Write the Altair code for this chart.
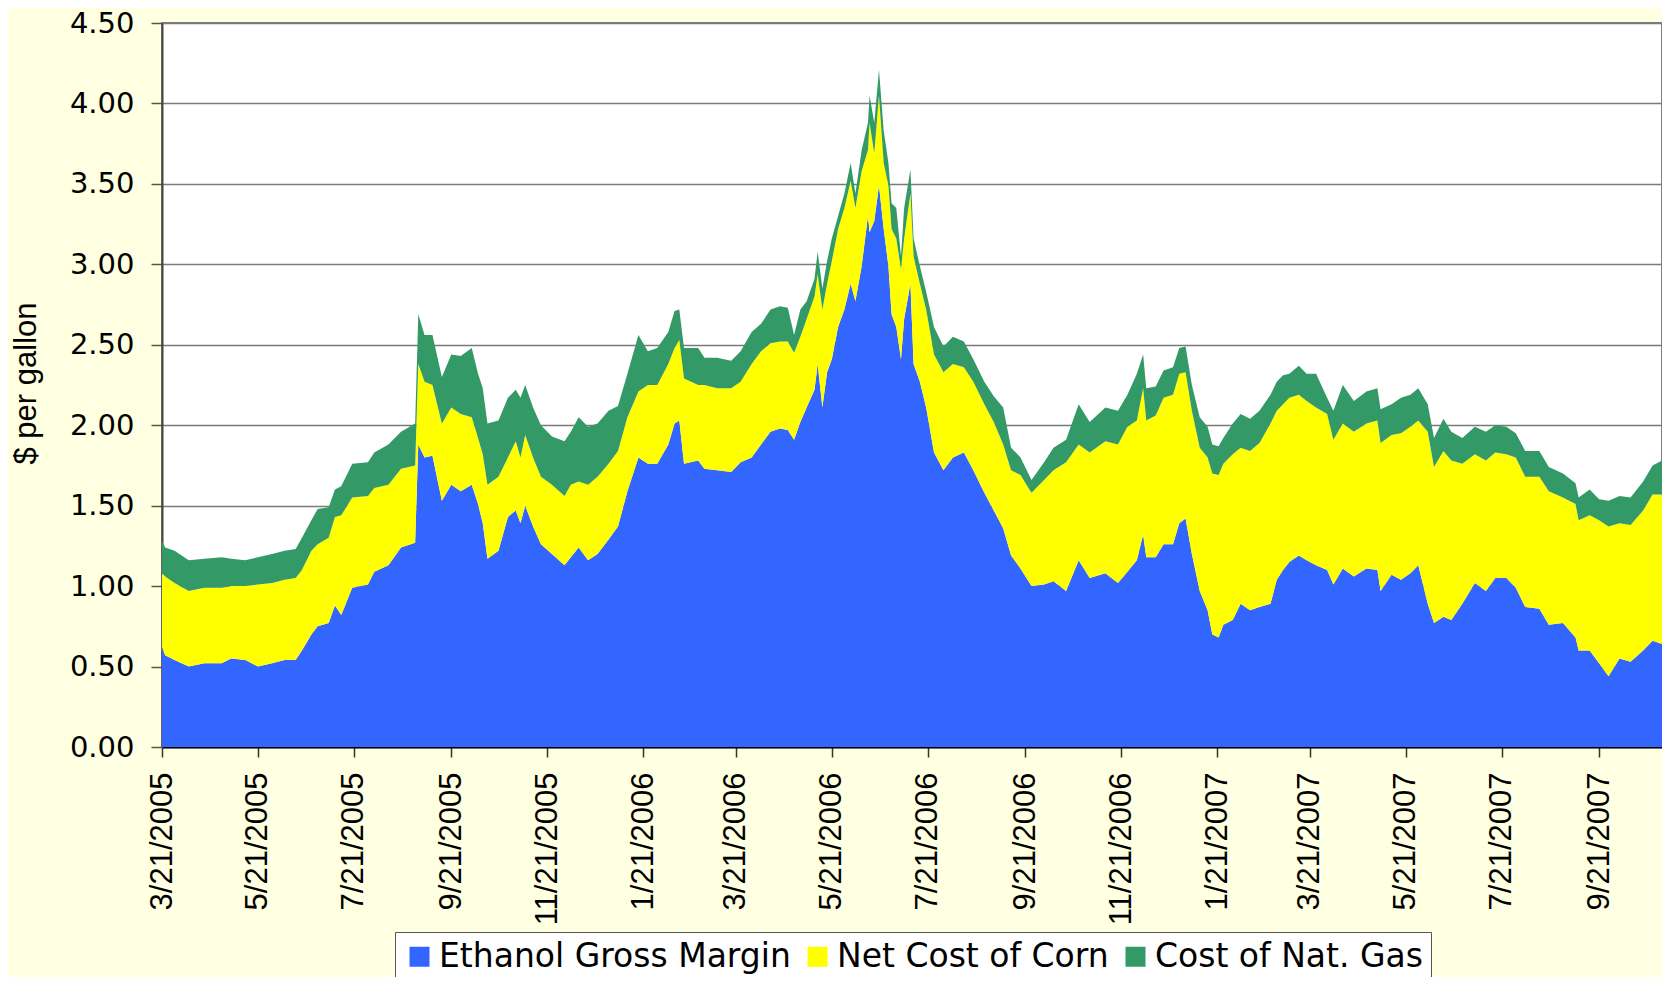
import altair as alt
import pandas as pd

# day offsets from 3/21/2005
days = [0,2,8,17,27,38,44,53,61,70,78,85,89,95,99,106,110,114,121,131,135,144,152,161,163,167,172,178,184,190,197,
        201,204,207,214,220,225,228,231,236,241,248,256,260,265,271,277,284,290,296,303,309,315,322,326,329,332,341,345,
        353,362,368,375,381,387,393,398,402,406,410,415,417,420,423,426,430,434,438,441,445,449,450,453,456,459,462,464,
        467,470,472,476,478,482,486,491,497,503,510,516,523,529,535,540,546,553,561,567,575,583,590,600,608,614,620,624,
        626,632,637,643,647,651,655,660,665,668,672,675,681,686,692,698,705,709,713,717,723,728,734,741,745,751,758,766,
        773,775,782,788,794,799,805,809,815,820,827,835,842,848,855,861,867,876,882,891,899,901,908,914,920,927,934,942,
        948,954]

# top of the Ethanol Gross Margin band ($/gal)
margin_top = [0.62,0.57,0.54,0.50,0.52,0.52,0.55,0.54,0.50,0.52,0.54,0.54,0.60,0.70,0.75,0.77,0.88,0.82,0.99,1.01,1.09,
              1.13,1.24,1.27,1.88,1.80,1.81,1.53,1.63,1.59,1.63,
              1.51,1.39,1.17,1.22,1.43,1.47,1.39,1.50,1.37,1.26,1.20,1.13,1.18,1.24,1.16,1.20,1.29,1.37,1.59,1.80,1.76,
              1.76,1.88,2.01,2.03,1.76,1.78,1.73,1.72,1.71,1.77,1.80,1.88,1.96,1.98,1.97,1.91,2.02,2.11,2.22,2.38,2.11,
              2.33,2.41,2.61,2.72,2.88,2.77,2.99,3.30,3.20,3.27,3.49,3.22,2.99,2.69,2.61,2.41,2.66,2.88,2.38,2.27,2.11,
              1.83,1.72,1.80,1.83,1.72,1.58,1.47,1.36,1.19,1.11,1.00,1.01,1.03,0.97,1.16,1.05,1.08,1.02,1.09,1.16,1.32,
              1.18,1.18,1.26,1.26,1.39,1.42,1.20,0.97,0.85,0.70,0.68,0.76,0.79,0.89,0.85,0.87,0.89,1.04,1.10,1.15,1.19,
              1.16,1.13,1.10,1.01,1.11,1.06,1.11,1.10,0.97,1.07,1.04,1.08,1.13,0.89,0.77,0.81,0.79,0.89,1.02,0.97,1.05,
              1.05,0.99,0.87,0.86,0.76,0.77,0.68,0.60,0.60,0.52,0.44,0.55,0.53,0.60,0.66,0.64]

# top of the Net Cost of Corn band ($/gal, cumulative)
corn_top = [1.08,1.06,1.02,0.97,0.99,0.99,1.00,1.00,1.01,1.02,1.04,1.05,1.10,1.22,1.26,1.30,1.43,1.44,1.55,1.56,1.61,
            1.63,1.73,1.75,2.38,2.27,2.25,2.01,2.11,2.07,2.05,
            1.92,1.82,1.63,1.68,1.80,1.90,1.80,1.94,1.80,1.68,1.63,1.56,1.63,1.65,1.63,1.68,1.76,1.84,2.05,2.21,2.25,
            2.25,2.38,2.48,2.53,2.29,2.25,2.25,2.23,2.23,2.27,2.38,2.46,2.51,2.52,2.52,2.45,2.55,2.66,2.80,2.94,2.72,
            2.88,3.02,3.22,3.35,3.52,3.35,3.58,3.71,3.88,3.69,4.05,3.63,3.49,3.22,3.16,2.97,3.16,3.44,3.05,2.88,2.72,
            2.44,2.33,2.38,2.36,2.27,2.13,2.02,1.88,1.72,1.69,1.58,1.66,1.72,1.77,1.88,1.83,1.90,1.88,1.99,2.03,2.23,
            2.03,2.06,2.17,2.19,2.32,2.33,2.09,1.86,1.80,1.70,1.69,1.76,1.82,1.86,1.84,1.89,2.01,2.09,2.13,2.17,2.19,
            2.15,2.11,2.07,1.91,2.01,1.96,2.01,2.03,1.89,1.94,1.95,1.99,2.03,1.96,1.74,1.84,1.78,1.76,1.82,1.78,1.83,
            1.82,1.80,1.68,1.68,1.59,1.55,1.51,1.41,1.44,1.41,1.37,1.39,1.38,1.47,1.57,1.57]

# top of the Cost of Nat. Gas band ($/gal, cumulative)
gas_top = [1.28,1.24,1.22,1.16,1.17,1.18,1.17,1.16,1.18,1.20,1.22,1.23,1.30,1.41,1.48,1.49,1.60,1.62,1.76,1.77,1.83,
           1.88,1.96,2.01,2.69,2.56,2.56,2.30,2.44,2.43,2.48,
           2.32,2.23,2.01,2.03,2.17,2.22,2.17,2.25,2.11,2.00,1.93,1.90,1.96,2.05,1.99,2.01,2.09,2.12,2.32,2.56,2.46,
           2.48,2.58,2.71,2.72,2.48,2.48,2.42,2.42,2.40,2.46,2.58,2.63,2.72,2.74,2.73,2.56,2.72,2.77,2.91,3.08,2.85,
           3.02,3.16,3.30,3.44,3.63,3.44,3.71,3.88,4.05,3.88,4.21,3.83,3.63,3.38,3.35,3.05,3.35,3.59,3.16,2.99,2.83,
           2.61,2.49,2.55,2.52,2.41,2.27,2.18,2.11,1.86,1.80,1.66,1.77,1.86,1.91,2.13,2.02,2.11,2.09,2.19,2.32,2.44,
           2.23,2.24,2.34,2.36,2.48,2.49,2.25,2.05,1.99,1.88,1.87,1.92,2.01,2.07,2.04,2.09,2.19,2.27,2.31,2.32,2.37,
           2.32,2.32,2.17,2.09,2.25,2.15,2.21,2.23,2.10,2.13,2.17,2.19,2.23,2.13,1.92,2.04,1.96,1.92,1.99,1.96,2.00,
           1.99,1.95,1.84,1.84,1.74,1.70,1.64,1.55,1.60,1.54,1.53,1.56,1.55,1.65,1.75,1.78]

series_names = ["Ethanol Gross Margin", "Net Cost of Corn", "Cost of Nat. Gas"]
series_colors = ["#3366FF", "#FFFF00", "#339966"]

tick_dates = ["2005/03/21", "2005/05/21", "2005/07/21", "2005/09/21", "2005/11/21", "2006/01/21", "2006/03/21",
              "2006/05/21", "2006/07/21", "2006/09/21", "2006/11/21", "2007/01/21", "2007/03/21", "2007/05/21",
              "2007/07/21", "2007/09/21"]
y_ticks = [0, 0.5, 1.0, 1.5, 2.0, 2.5, 3.0, 3.5, 4.0, 4.5]

base = pd.Timestamp("2005-03-21")
dates = [(base + pd.Timedelta(days=d)).strftime("%Y/%m/%d") for d in days]

rows = []
for i, dt in enumerate(dates):
    rows.append({"date": dt, "series": series_names[0], "order": 0, "lower": 0.0, "upper": margin_top[i]})
    rows.append({"date": dt, "series": series_names[1], "order": 1, "lower": margin_top[i], "upper": corn_top[i]})
    rows.append({"date": dt, "series": series_names[2], "order": 2, "lower": corn_top[i], "upper": gas_top[i]})
df = pd.DataFrame(rows)


def tdt(s):
    y, m, d = s.split("/")
    return alt.DateTime(year=int(y), month=int(m), date=int(d))


chart = alt.Chart(df).mark_area(interpolate="linear", opacity=1).encode(
    x=alt.X("date:T",
            scale=alt.Scale(domain=[tdt("2005/03/21"), tdt("2007/10/31")], nice=False),
            axis=alt.Axis(values=[tdt(s) for s in tick_dates], format="%-m/%-d/%Y", labelAngle=270,
                          labelFont="Liberation Sans", labelFontSize=31, labelColor="black", labelPadding=15,
                          domainColor="black", domainWidth=2, tickColor="#333333", tickSize=10,
                          tickWidth=1.5, grid=False, title=None, labelOverlap=False)),
    y=alt.Y("upper:Q", stack=False,
            scale=alt.Scale(domain=[0, 4.5], nice=False),
            axis=alt.Axis(values=y_ticks, format=".2f", labelFont="DejaVu Sans", labelFontSize=29,
                          labelColor="black",
                          labelPadding=17, tickSize=11, tickColor="#555555", tickWidth=1.5,
                          domainColor="#444444", domainWidth=2, grid=True, gridColor="#7a7a7a",
                          gridWidth=1.3, title="$ per gallon", titleFont="Liberation Sans", titleFontSize=31,
                          titleFontWeight="normal",
                          titleColor="black", titleAngle=270, titleX=-136, titleY=360,
                          titleAlign="center", titleBaseline="middle", labelOverlap=False)),
    y2="lower:Q",
    color=alt.Color("series:N",
                    scale=alt.Scale(domain=series_names, range=series_colors),
                    legend=alt.Legend(title=None, orient="none", legendX=233, legendY=909,
                                      direction="horizontal", fillColor="white", strokeColor="#555555",
                                      padding=8, symbolType="square", symbolSize=400,
                                      symbolStrokeWidth=0, symbolOpacity=1, labelFont="DejaVu Sans",
                                      labelFontSize=33, labelColor="black", labelOffset=3, columnPadding=10,
                                      labelLimit=600)),
    order=alt.Order("order:Q"),
).properties(
    width=1500, height=724,
    autosize=alt.AutoSizeParams(type="none"),
    padding={"left": 154, "top": 15, "right": 0, "bottom": 230},
).configure(
    background="#FFFFE1", font="Liberation Sans"
).configure_view(
    fill="white", stroke="#808080", strokeWidth=2
)

chart.save("out.html", embed_options={"renderer": "svg", "actions": False})
